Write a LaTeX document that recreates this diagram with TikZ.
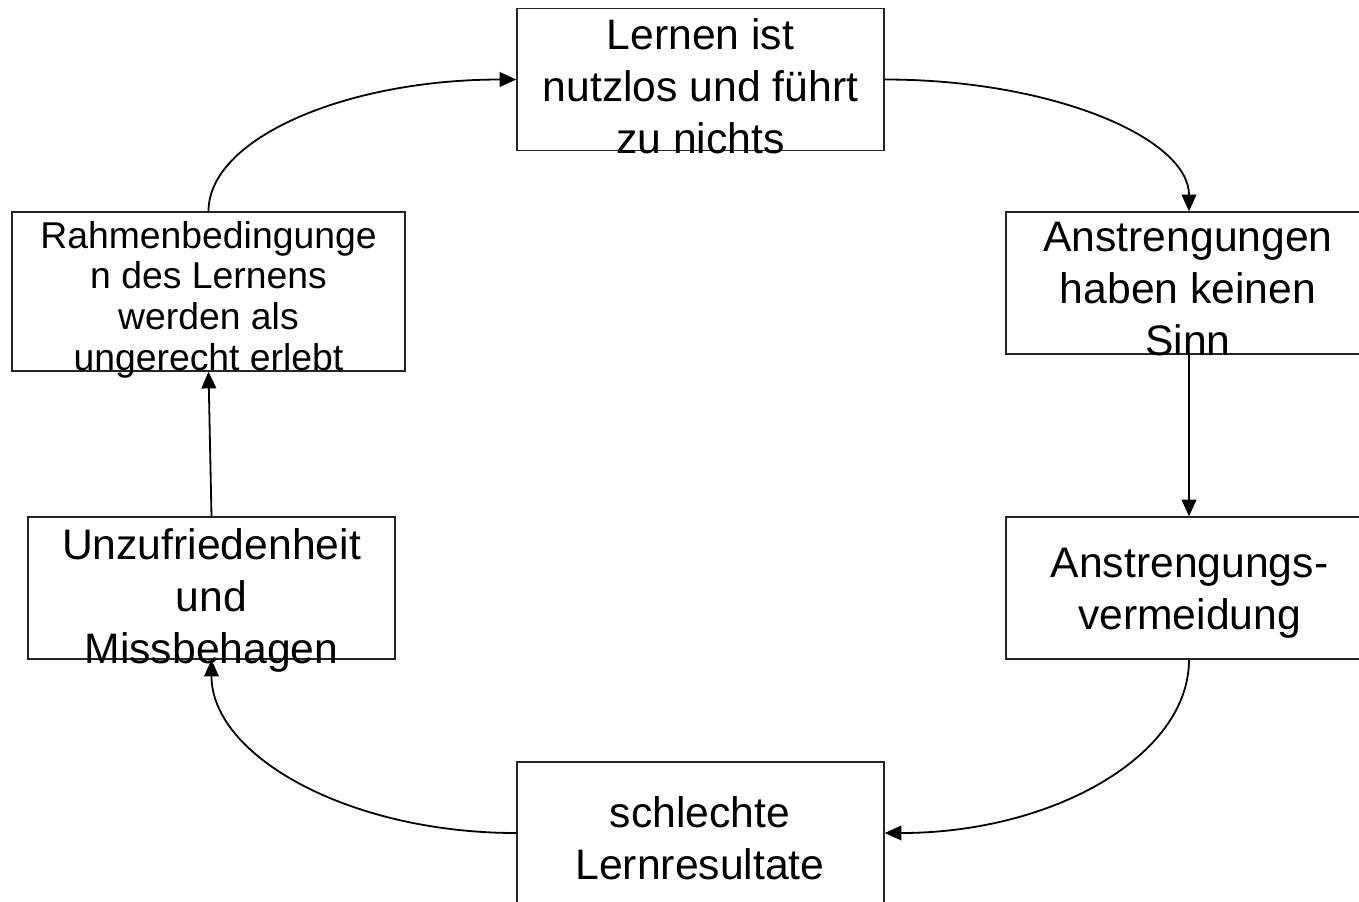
\documentclass[tikz,border=0pt]{standalone}
\usepackage{fontspec}
\setmainfont{Liberation Sans}
\usetikzlibrary{arrows.meta, positioning, calc}

\tikzset{
  box/.style={draw=black!85, line width=1.1pt, inner sep=0pt, minimum width=367*0.75pt, minimum height=142*0.75pt},
  txt/.style={align=center, inner sep=0pt, anchor=north, font=\fontsize{32}{39}\selectfont},
  smalltxt/.style={txt, font=\fontsize{28}{30.5}\selectfont},
  arr/.style={line width=1.35pt, -{Triangle[length=12.5pt, width=11pt]}}
}

\begin{document}
\begin{tikzpicture}[x=0.75pt, y=-0.75pt]
\clip (0,0) rectangle (1359,901);
% boxes of the circle
\node[box] (lernen) at (700.5,79.5) {};
\node[box, minimum width=366*0.75pt] (sinn) at (1189,283) {};
\node[box, minimum width=366*0.75pt] (vermeid) at (1189,588) {};
\node[box] (result) at (700.5,833) {};
\node[box] (unzuf) at (211.5,588) {};
\node[box, minimum width=393*0.75pt, minimum height=159*0.75pt] (rahmen) at (208.5,291.5) {};
% texts, top aligned
\node[txt] (lernentxt) at (700.5,18) {Lernen ist\\nutzlos und führt\\zu nichts};
\node[txt] (sinntxt) at (1188,222) {Anstrengungen\\haben keinen\\Sinn};
\node[txt] (vermeidtxt) at (1189.5,547.5) {Anstrengungs-\\vermeidung};
\node[txt] (resulttxt) at (700,796) {schlechte\\Lernresultate};
\node[txt] (unzuftxt) at (211.5,528) {Unzufriedenheit\\und\\Missbehagen};
\node[smalltxt] (rahmentxt) at (208.5,221) {Rahmenbedingunge\\n des Lernens\\werden als\\ungerecht erlebt};
% arrows
\draw[arr] (rahmen.north) .. controls +(0,-73) and +(-170,0) .. (lernen.west);
\draw[arr] (lernen.east) .. controls +(168,0) and +(0,-73) .. (sinn.north);
\draw[arr] (sinn.south) -- (vermeid.north);
\draw[arr] (vermeid.south) .. controls +(0,96) and +(168,0) .. (result.east);
\draw[arr] (result.west) .. controls +(-168,0) and +(0,96) .. (unzuf.south);
\draw[arr] (unzuf.north) -- (rahmen.south);
\end{tikzpicture}
\end{document}
